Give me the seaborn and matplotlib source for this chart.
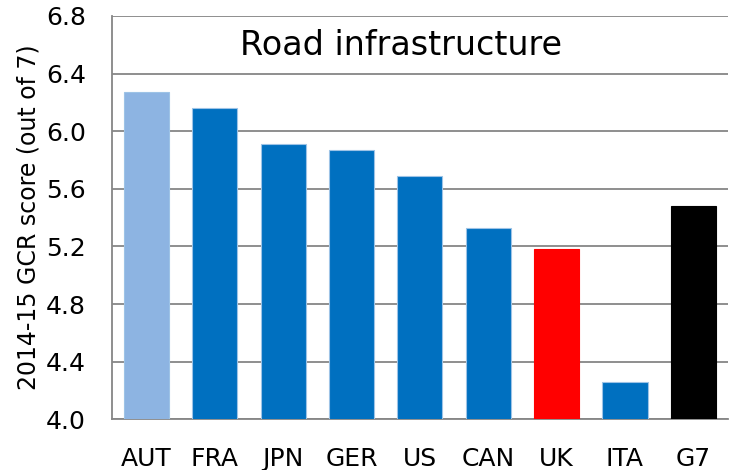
import matplotlib
matplotlib.use('Agg')
import matplotlib.pyplot as plt
import numpy as np
import pandas as pd
import seaborn as sns

# 2014-15 GCR 도로 인프라 점수
countries = ['AUT', 'FRA', 'JPN', 'GER', 'US', 'CAN', 'UK', 'ITA', 'G7']
scores = [6.27, 6.16, 5.91, 5.87, 5.69, 5.33, 5.18, 4.26, 5.48]
bar_colors = ['#8DB4E2', '#0070C0', '#0070C0', '#0070C0', '#0070C0',
              '#0070C0', '#FF0000', '#0070C0', '#000000']
yticks = [4.0, 4.4, 4.8, 5.2, 5.6, 6.0, 6.4, 6.8]

df = pd.DataFrame({'country': countries, 'score': scores})

sns.set_style('white')
plt.rcParams['font.family'] = ['DejaVu Sans']
plt.rcParams['text.color'] = 'black'
plt.rcParams['xtick.color'] = 'black'
plt.rcParams['ytick.color'] = 'black'
plt.rcParams['axes.labelcolor'] = 'black'

fig, ax = plt.subplots(figsize=(7.29, 4.70), dpi=100)
fig.subplots_adjust(left=0.154, right=0.998, top=0.966, bottom=0.108)

sns.barplot(data=df, x='country', y='score', hue='country',
            palette=dict(zip(countries, bar_colors)), legend=False,
            saturation=1, width=0.66, ax=ax, zorder=3,
            linewidth=0.8, edgecolor='#9DC3E6')
# 빨강/검정 막대는 테두리를 같은 색으로
for patch, c in zip(ax.patches, bar_colors):
    if c in ('#FF0000', '#000000'):
        patch.set_edgecolor(c)

ax.set_ylim(4.0, 6.8)
ax.set_xlim(-0.5, len(countries) - 0.5)
ax.set_yticks(yticks)
ax.set_yticklabels([f'{v:.1f}' for v in yticks], fontsize=18)
ax.yaxis.grid(True, color='#868686', linewidth=1.3, zorder=0)
ax.set_axisbelow(True)

ax.set_xticks(range(len(countries)))
ax.set_xticklabels(countries, fontsize=18)
ax.set_xticks(np.arange(-0.5, len(countries)), minor=True)
ax.tick_params(axis='x', which='major', length=0, pad=20)
ax.tick_params(axis='x', which='minor', length=6, width=1.3, color='#868686', direction='out')
ax.tick_params(axis='y', length=7, width=1.3, color='#868686', direction='out', pad=12)

for s in ['top', 'right']:
    ax.spines[s].set_visible(False)
for s in ['left', 'bottom']:
    ax.spines[s].set_color('#868686')
    ax.spines[s].set_linewidth(1.3)

ax.set_xlabel('')
ax.set_ylabel('2014-15 GCR score (out of 7)', fontsize=17, labelpad=4)
ax.text(0.47, 0.928, 'Road infrastructure', transform=ax.transAxes,
        ha='center', va='center', fontsize=24)

plt.savefig('out.png', dpi=100)
